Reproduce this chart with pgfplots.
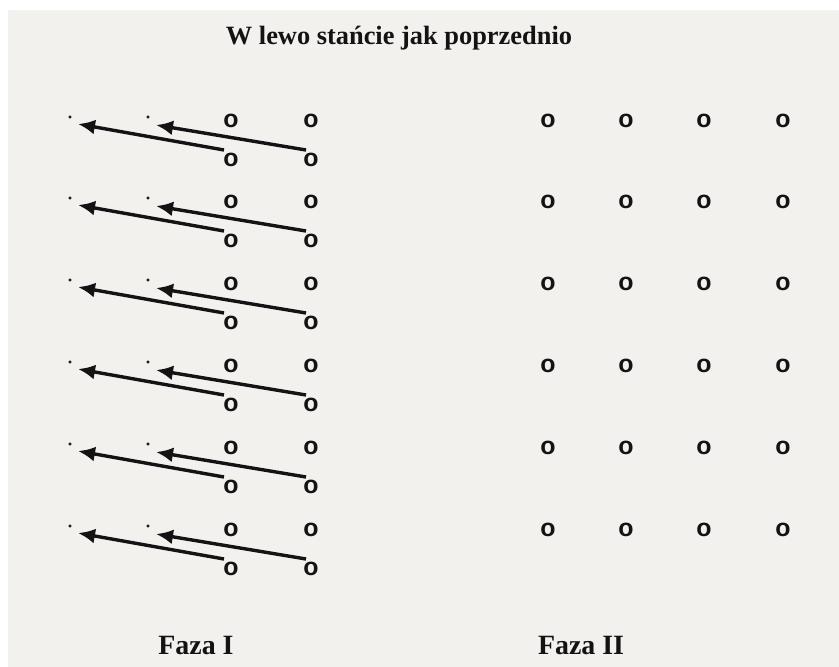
\documentclass[border=0pt]{standalone}
\usepackage{pgfplots}
\pgfplotsset{compat=1.18}
\usepackage{pgfplotstable}
\usepackage{fontspec}
\setmainfont{Liberation Serif}
\newfontfamily\osans{Liberation Sans}
\usetikzlibrary{arrows.meta}
\definecolor{bg}{HTML}{F2F1EE}
\definecolor{ink}{HTML}{141212}

\pgfplotstableread{
x y
231 121
311 121
231 160
311 160
231 202
311 202
231 241
311 241
231 284
311 284
231 323
311 323
231 366
311 366
231 405
311 405
231 448
311 448
231 487
311 487
231 530
311 530
231 569
311 569
548 121
626 121
704 121
783 121
548 202
626 202
704 202
783 202
548 284
626 284
704 284
783 284
548 366
626 366
704 366
783 366
548 448
626 448
704 448
783 448
548 530
626 530
704 530
783 530
}\circles

\pgfplotstableread{
x y
70 117
148 117
70 198
148 198
70 280
148 280
70 362
148 362
70 444
148 444
70 526
148 526
}\dots

\pgfplotstableread{
x y u v
224 150 -146 -26
306 150 -150 -25
224 231 -146 -26
306 231 -150 -25
224 313 -146 -26
306 313 -150 -25
224 395 -146 -26
306 395 -150 -25
224 477 -146 -26
306 477 -150 -25
224 559 -146 -26
306 559 -150 -25
}\arrows

\begin{document}
\begin{tikzpicture}
\fill[white] (0,0) rectangle (839bp,667bp);
\fill[bg] (8bp,0) rectangle (839bp,657bp);
\begin{axis}[
  at={(8bp,0)}, anchor=south west,
  scale only axis, width=831bp, height=657bp,
  xmin=8, xmax=839, ymin=10, ymax=667, y dir=reverse,
  axis lines=none, ticks=none, clip=false,
]
\addplot[only marks, mark=*, mark size=0pt, mark options={draw=none,fill=none},
  nodes near coords={\osans\bfseries o},
  every node near coord/.style={anchor=center, inner sep=0pt, text=ink,
    font=\fontsize{25}{25}\selectfont}]
  table[x=x,y=y]{\circles};
\addplot[only marks, mark=*, mark size=1.4bp, color=ink] table[x=x,y=y]{\dots};
\addplot[ink, line width=3.4bp, -{Latex[length=17bp,width=15bp]},
  quiver={u=\thisrow{u}, v=\thisrow{v}}]
  table[x=x,y=y]{\arrows};
\node[anchor=base, text=ink, font=\bfseries\fontsize{26.5}{26.5}\selectfont]
  at (axis cs:399,45) {W lewo stańcie jak poprzednio};
\node[anchor=base, text=ink, font=\bfseries\fontsize{28}{28}\selectfont]
  at (axis cs:196,654) {Faza I};
\node[anchor=base, text=ink, font=\bfseries\fontsize{28}{28}\selectfont]
  at (axis cs:581,654) {Faza II};
\end{axis}
\pgfresetboundingbox
\useasboundingbox (0,0) rectangle (839bp,667bp);
\end{tikzpicture}
\end{document}
